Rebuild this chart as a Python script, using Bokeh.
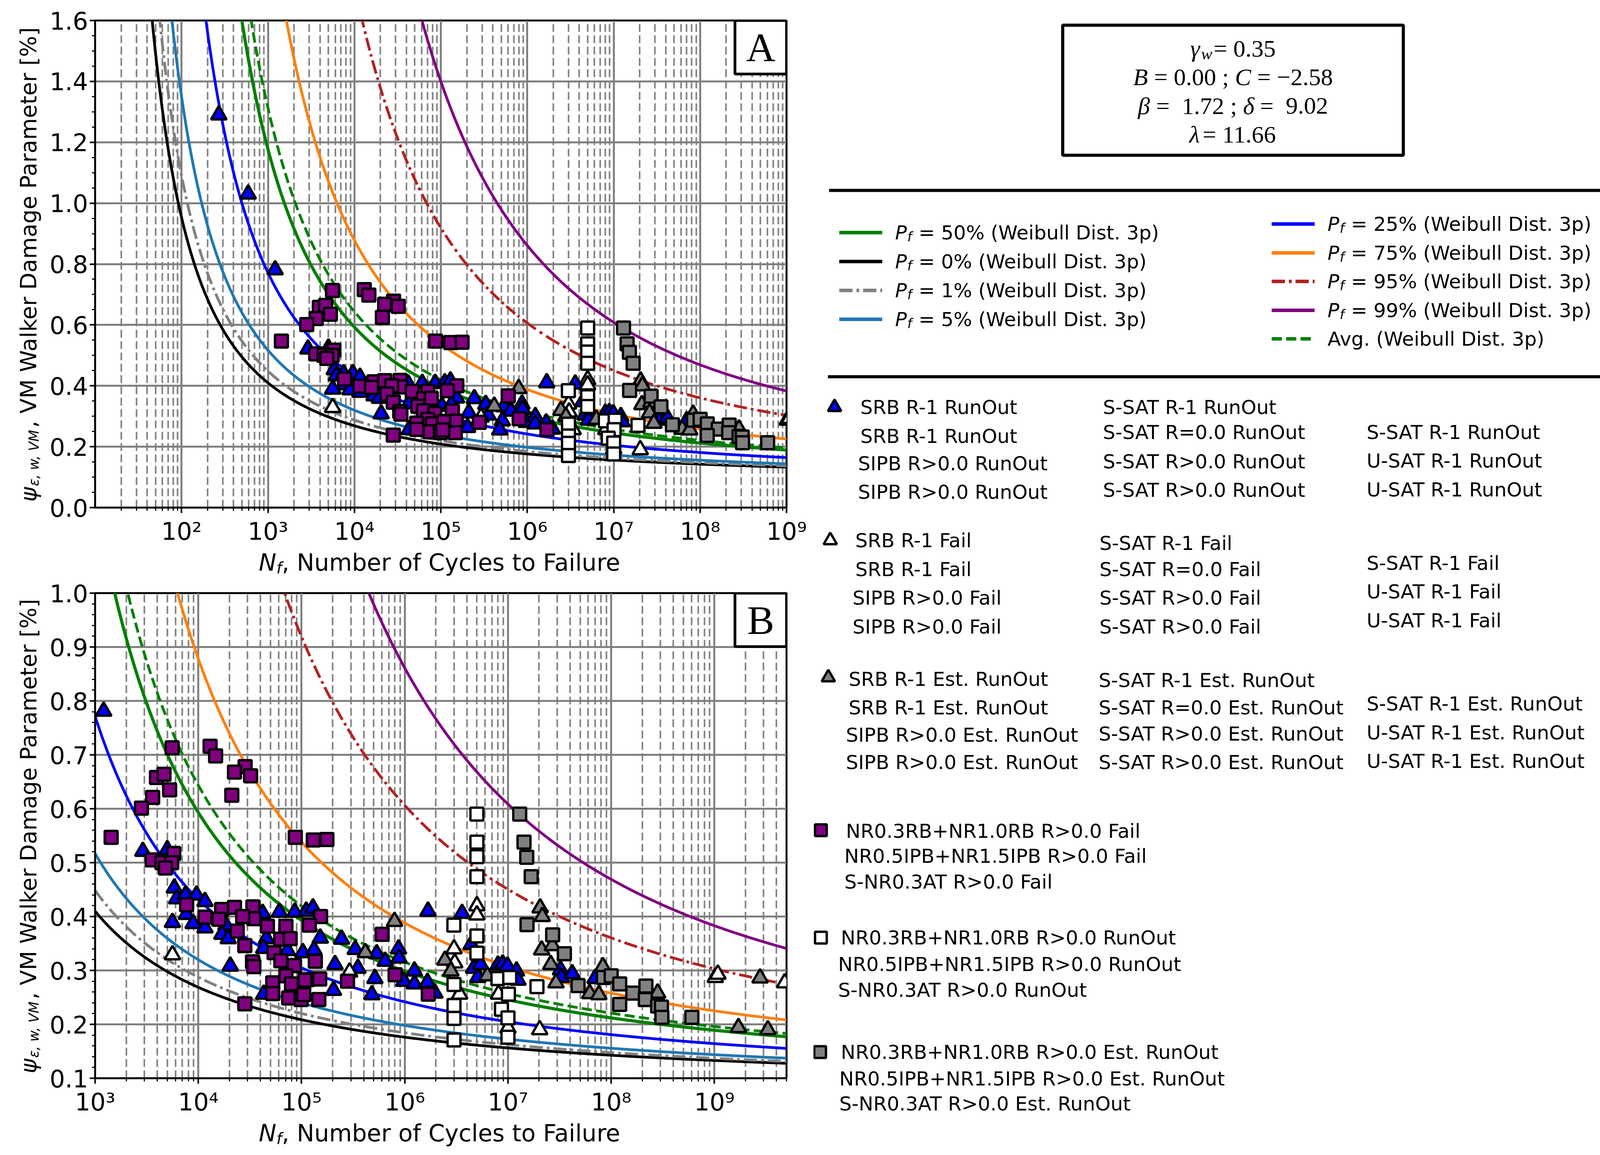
import math
import numpy as np
from bokeh.plotting import figure
from bokeh.models import Range1d, FixedTicker, PrintfTickFormatter, ColumnDataSource
from bokeh.layouts import row, column
from bokeh.embed import file_html
from bokeh.resources import INLINE
from bokeh.core.properties import value

# ---------------- model parameters (Weibull 3p) ----------------
GAMMA_W = 0.35
B_PAR = 0.00
C_PAR = -2.58
BETA = 1.72
DELTA = 9.02
LAMBDA = 11.66

# ---------------- experimental data ----------------
tri_blue_N = [270, 590, 1210, 2900, 5000, 5850, 6170, 7500, 9600, 11600, 7660, 5610,
              8900, 11600, 18500, 16900, 19500, 20400, 45700, 43000, 43000, 61000,
              86000, 111000, 42000, 103000, 73000, 129000, 152000, 244000, 132000,
              211000, 204000, 331000, 535000, 352000, 646000, 870000, 880000, 514000,
              480000, 980000, 1240000, 1240000, 1660000, 1960000, 1680000, 3590000,
              4400000, 4650000, 5420000, 5100000, 8000000, 8900000, 9900000, 12100000,
              12500000, 32300000, 33000000, 41900000, 69700000]
tri_blue_psi = [1.29, 1.03, 0.781, 0.521, 0.524, 0.453, 0.433, 0.440, 0.440, 0.428, 0.404, 0.389,
                0.387, 0.379, 0.384, 0.367, 0.359, 0.308, 0.359, 0.341, 0.256, 0.408,
                0.408, 0.410, 0.406, 0.333, 0.337, 0.416, 0.360, 0.358, 0.338,
                0.311, 0.263, 0.339, 0.331, 0.304, 0.317, 0.340, 0.323, 0.285,
                0.255, 0.280, 0.299, 0.275, 0.278, 0.258, 0.410, 0.406,
                0.348, 0.304, 0.311, 0.287, 0.310, 0.312, 0.308, 0.299,
                0.282, 0.301, 0.287, 0.294, 0.285]

tri_white_N = [5610, 292000, 3000000, 3050000, 3400000, 5000000, 5000000, 8100000,
               10000000, 20300000, 1020000000, 1080000000, 4800000000]
tri_white_psi = [0.329, 0.297, 0.340, 0.314, 0.256, 0.420, 0.403, 0.256,
                 0.193, 0.190, 0.287, 0.293, 0.277]

tri_grey_N = [415000, 796000, 2450000, 2800000, 6300000, 20500000, 21500000, 21200000,
              26900000, 26000000, 29200000, 62000000, 76000000, 83000000, 282000000,
              2770000000, 1710000000, 3300000000]
tri_grey_psi = [0.333, 0.391, 0.319, 0.299, 0.290, 0.416, 0.400, 0.338,
                0.346, 0.311, 0.277, 0.257, 0.255, 0.307, 0.258,
                0.286, 0.194, 0.190]

sq_purple_N = [5580, 13000, 14700, 28400, 22400, 32100, 21100, 3930, 4650, 5270, 3610,
               2810, 1430, 87000, 130000, 176000, 3570, 4440, 5780, 5520, 4800,
               7700, 11600, 16800, 22400, 33800, 15800, 34500, 26900, 23800, 28200,
               33500, 34500, 46700, 70600, 62900, 77600, 54200, 63000, 85000, 70600,
               52600, 80000, 52600, 75000, 99000, 114000, 28200,
               153000, 119000, 136000, 150000, 147000, 108000, 105000, 279000,
               603000, 807000, 1690000]
sq_purple_psi = [0.713, 0.716, 0.698, 0.678, 0.668, 0.661, 0.625, 0.658, 0.664, 0.635, 0.621,
                 0.601, 0.547, 0.547, 0.542, 0.543, 0.505, 0.500, 0.517, 0.500, 0.490,
                 0.422, 0.399, 0.413, 0.417, 0.418, 0.395, 0.396, 0.400, 0.373, 0.346,
                 0.316, 0.307, 0.382, 0.382, 0.358, 0.359, 0.333, 0.318, 0.309, 0.290,
                 0.277, 0.275, 0.257, 0.249, 0.246, 0.283, 0.238,
                 0.400, 0.384, 0.317, 0.284, 0.246, 0.282, 0.255, 0.280,
                 0.367, 0.292, 0.256]

sq_white_N = [2990000, 5000000, 5000000, 5000000, 5000000, 5000000, 5000000, 3000000,
              3000000, 3000000, 3000000, 8000000, 10400000, 10100000, 8650000,
              10000000, 10000000, 19100000]
sq_white_psi = [0.384, 0.590, 0.538, 0.511, 0.474, 0.364, 0.332, 0.274,
                0.235, 0.211, 0.171, 0.285, 0.287, 0.256, 0.228,
                0.212, 0.176, 0.270]

sq_grey_N = [13000000, 14300000, 15200000, 16800000, 15300000, 27100000, 35200000,
             47800000, 84000000, 100000000, 121000000, 162000000, 121000000,
             217000000, 214000000, 282000000, 307000000, 310000000, 605000000]
sq_grey_psi = [0.590, 0.538, 0.510, 0.474, 0.385, 0.366, 0.331,
               0.272, 0.287, 0.290, 0.275, 0.258, 0.237,
               0.271, 0.246, 0.234, 0.232, 0.213, 0.213]

curve_labels = ["50%", "0%", "1%", "5%", "25%", "75%", "95%", "99%", "Avg."]
curve_probs = [0.50, 0.0, 0.01, 0.05, 0.25, 0.75, 0.95, 0.99, None]
curve_colors = ["green", "black", "gray", "#1f77b4", "blue", "#ff7f0e", "firebrick",
                "purple", "green"]
curve_dashes = ["solid", "solid", "34 10 7 10", "solid", "solid", "solid", "34 10 7 10",
                "solid", "26 11"]
curve_widths = [8, 7, 7, 7, 7, 7, 7, 7, 7]

SANS = "DejaVu Sans"
SERIF = "Liberation Serif"


def weibull_v(p):
    if p is None:
        return LAMBDA + DELTA * math.gamma(1.0 + 1.0 / BETA)
    if p <= 0:
        return LAMBDA
    return LAMBDA + DELTA * (-math.log(1.0 - p)) ** (1.0 / BETA)


def psi_of_n(n, v):
    return np.exp(C_PAR + v / (np.log(n) - B_PAR))


SUP = str.maketrans("0123456789", "⁰¹²³⁴⁵⁶⁷⁸⁹")


def sup_label(t):
    return "10" + str(int(round(math.log10(t)))).translate(SUP)


def blank_fig(w, h, top=0, bottom=0, yspan=None):
    f = figure(width=w, height=h, x_range=Range1d(0, w),
               y_range=Range1d(0, yspan if yspan is not None else h),
               output_backend="svg", toolbar_location=None, x_axis_type=None,
               y_axis_type=None, title=None, min_border_left=0, min_border_right=0,
               min_border_top=top, min_border_bottom=bottom)
    f.grid.visible = False
    f.outline_line_color = None
    return f


def gtext(f, x, y, s, size, italic=False, font=SANS, align="left", angle=0.0):
    f.text(x=[x], y=[y], text=[s], text_font=value(font), text_font_size=f"{size}px",
           text_font_style="italic" if italic else "normal", text_align=align, angle=angle,
           text_baseline="middle", text_color="black")


def make_panel(xr, yr, xticks, xminor, yticks, yminor, letter, height, top, bottom):
    frame_w = 1770
    frame_h = height - top - bottom
    p = figure(width=1965, height=height, x_axis_type="log", title=None,
               x_range=Range1d(*xr), y_range=Range1d(*yr),
               output_backend="svg", toolbar_location=None,
               min_border_left=126, min_border_right=69,
               min_border_top=top, min_border_bottom=bottom)
    p.xaxis.ticker = FixedTicker(ticks=xticks, minor_ticks=xminor)
    p.xaxis.major_label_overrides = {t: sup_label(t) for t in xticks}
    p.yaxis.ticker = FixedTicker(ticks=yticks, minor_ticks=yminor)
    p.yaxis.formatter = PrintfTickFormatter(format="%.1f")
    for ax in (p.xaxis[0], p.yaxis[0]):
        ax.major_label_text_font = SANS
        ax.major_label_text_font_size = "62px"
        ax.major_label_text_color = "black"
        ax.axis_line_color = "black"
        ax.axis_line_width = 5
        ax.major_tick_line_width = 4
        ax.major_tick_line_color = "black"
        ax.major_tick_out = 14
        ax.major_tick_in = 0
        ax.minor_tick_line_width = 3
        ax.minor_tick_line_color = "black"
        ax.minor_tick_out = 8
        ax.minor_tick_in = 0
    p.xaxis.major_label_standoff = 10
    p.yaxis.major_label_standoff = 4
    p.outline_line_color = "black"
    p.outline_line_width = 5
    p.outline_line_alpha = 1.0
    p.xgrid.grid_line_color = "gray"
    p.xgrid.grid_line_width = 5
    p.xgrid.grid_line_alpha = 1.0
    p.xgrid.minor_grid_line_color = "gray"
    p.xgrid.minor_grid_line_width = 4
    p.xgrid.minor_grid_line_dash = "20 9"
    p.ygrid.grid_line_color = "gray"
    p.ygrid.grid_line_width = 5
    p.ygrid.grid_line_alpha = 1.0

    n = np.logspace(math.log10(xr[0]), math.log10(xr[1]), 900)
    for lab, pr, col, dash, lw in zip(curve_labels, curve_probs, curve_colors,
                                      curve_dashes, curve_widths):
        p.line(n, psi_of_n(n, weibull_v(pr)), line_color=col, line_width=lw,
               line_dash=dash)

    series = [
        (tri_blue_N, tri_blue_psi, "triangle", "blue"),
        (tri_white_N, tri_white_psi, "triangle", "white"),
        (tri_grey_N, tri_grey_psi, "triangle", "gray"),
        (sq_purple_N, sq_purple_psi, "square", "purple"),
        (sq_white_N, sq_white_psi, "square", "white"),
        (sq_grey_N, sq_grey_psi, "square", "gray"),
    ]
    for xs, ys, mk, fc in series:
        src = ColumnDataSource(dict(N=xs, psi=ys))
        p.scatter(x="N", y="psi", source=src, marker=mk,
                  size=40 if mk == "triangle" else 33,
                  fill_color=fc, line_color="black", line_width=6)

    lx0, lx1 = math.log10(xr[0]), math.log10(xr[1])
    box_left = 10 ** (lx0 + (lx1 - lx0) * (frame_w - 132) / frame_w)
    box_bottom = yr[1] - (yr[1] - yr[0]) * 137 / frame_h
    p.quad(left=[box_left], right=[xr[1]], bottom=[box_bottom], top=[yr[1]],
           fill_color="white", line_color="black", line_width=7)
    cx = 10 ** ((math.log10(box_left) + lx1) / 2)
    cy = (box_bottom + yr[1]) / 2
    p.text(x=[cx], y=[cy], text=[letter], text_font=value(SERIF),
           text_font_size="104px", text_font_style="normal", text_align="center",
           text_baseline="middle", text_color="black")
    return p


def ylabel_fig(height, top, bottom):
    # same top/bottom borders as its panel, so the frames coincide
    frame_h = height - top - bottom
    f = blank_fig(117, height, top=top, bottom=bottom, yspan=frame_h)
    ang = math.pi / 2
    psi_w, sub_w, rest_w = 41, 146, 1034
    y0 = frame_h / 2 - (psi_w + sub_w + rest_w) / 2
    gtext(f, 72, y0 + psi_w / 2, "ψ", 57, italic=True, angle=ang, align="center")
    gtext(f, 86, y0 + psi_w + sub_w / 2, "ε, w, VM", 35, italic=True, angle=ang,
          align="center")
    gtext(f, 72, y0 + psi_w + sub_w + rest_w / 2, ", VM Walker Damage Parameter [%]", 57,
          angle=ang, align="center")
    return f


def xlabel_fig(height, center_local):
    f = blank_fig(2082, height)
    gtext(f, 662, center_local, "N", 60, italic=True)
    gtext(f, 707, center_local - 14, "f", 40, italic=True)
    gtext(f, 721, center_local, ", Number of Cycles to Failure", 60)
    return f


yA_ticks = [0.0, 0.2, 0.4, 0.6, 0.8, 1.0, 1.2, 1.4, 1.6]
yA_minor = [round(0.05 * i, 3) for i in range(33)]
xA_ticks = [10 ** k for k in range(2, 10)]
xA_minor = [m * 10 ** k for k in range(1, 9) for m in range(2, 10)]

yB_ticks = [0.1, 0.2, 0.3, 0.4, 0.5, 0.6, 0.7, 0.8, 0.9, 1.0]
yB_minor = [round(0.1 + 0.02 * i, 3) for i in range(46)]
xB_ticks = [10 ** k for k in range(3, 10)]
xB_minor = [m * 10 ** k for k in range(3, 10) for m in range(2, 10) if m * 10 ** k <= 5e9]

pA = make_panel((10, 1e9), (0.0, 1.6), xA_ticks, xA_minor, yA_ticks, yA_minor,
                "A", 1399, 52, 100)
pB = make_panel((1e3, 5e9), (0.1, 1.0), xB_ticks, xB_minor, yB_ticks, yB_minor,
                "B", 1381, 39, 100)
yA = ylabel_fig(1399, 52, 100)
yB = ylabel_fig(1381, 39, 100)
xA = xlabel_fig(80, 40)
xB = xlabel_fig(79, 39)

# ---------------- legend / parameter panel ----------------
LW, LH = 2064, 2939
L = figure(width=LW, height=LH, x_range=Range1d(2090, 2090 + LW), y_range=Range1d(0, LH),
           output_backend="svg", toolbar_location=None, x_axis_type=None, y_axis_type=None,
           min_border=0, title=None)
L.grid.visible = False
L.outline_line_color = None


def Y(py):
    return 2947 - py


L.quad(left=[2728], right=[3600], top=[Y(72)], bottom=[Y(405)], fill_color=None,
       line_color="black", line_width=8)
TW = {'.': .25, ' ': .25, '=': .564, ';': .278, '−': .564, 'B': .611, 'C': .667,
      'β': .5, 'δ': .45, 'λ': .5, 'γ': .44, 'w': .667}
box_lines = [
    [(0, "γ", True, False), (0, "w", True, True), (0.05, "= " + f"{GAMMA_W:.2f}", False, False)],
    [(0, "B", True, False), (0.25, "= " + f"{B_PAR:.2f} ;", False, False), (0.25, "C", True, False),
     (0.25, "= " + f"{C_PAR:.2f}".replace("-", "−"), False, False)],
    [(0, "β", True, False), (0.25, "=", False, False), (0.5, f"{BETA:.2f} ;", False, False),
     (0.25, "δ", True, False), (0.25, "=", False, False), (0.5, f"{DELTA:.2f}", False, False)],
    [(0, "λ", True, False), (0.05, "= " + f"{LAMBDA:.2f}", False, False)],
]
BOX_F = 62
for li, parts in enumerate(box_lines):
    yline = 131 + 73.5 * li
    widths = []
    for gap, s, it, sb in parts:
        fsz = BOX_F * (0.7 if sb else 1.0)
        widths.append((gap * BOX_F, sum(TW.get(c, 0.5) for c in s) * fsz))
    total = sum(g + w for g, w in widths)
    x = 3164 - total / 2
    for (gap, s, it, sb), (g, w) in zip(parts, widths):
        x += g
        size = int(BOX_F * (0.7 if sb else 1.0))
        gtext(L, x, Y(yline + (14 if sb else 0)), s, size, italic=it, font=SERIF)
        x += w

L.segment(x0=[2130, 2127], y0=[Y(495), Y(972)], x1=[4131, 4128], y1=[Y(495), Y(972)],
          line_color="black", line_width=8)

leg_pos = {"50%": (2156, 603), "0%": (2156, 677), "1%": (2156, 751), "5%": (2156, 825),
           "25%": (3263, 581), "75%": (3263, 655), "95%": (3263, 728), "99%": (3263, 802),
           "Avg.": (3263, 875)}
for lab, col, dash in zip(curve_labels, curve_colors, curve_dashes):
    lx, ly = leg_pos[lab]
    L.line([lx, lx + 110], [Y(ly), Y(ly)], line_color=col, line_width=9, line_dash=dash)
    tx = lx + 143
    if lab == "Avg.":
        gtext(L, tx, Y(ly), "Avg. (Weibull Dist. 3p)", 50)
    else:
        gtext(L, tx, Y(ly), "P", 50, italic=True)
        gtext(L, tx + 31, Y(ly + 10), "f", 34, italic=True)
        gtext(L, tx + 60, Y(ly), f"= {lab} (Weibull Dist. 3p)", 50)

marker_groups = [
    ("triangle", "blue", (2144, 1050), [
        (2210, 1050, "SRB R-1 RunOut"), (2210, 1124, "SRB R-1 RunOut"),
        (2204, 1194, "SIPB R>0.0 RunOut"), (2204, 1267, "SIPB R>0.0 RunOut"),
        (2831, 1050, "S-SAT R-1 RunOut"), (2831, 1114, "S-SAT R=0.0 RunOut"),
        (2831, 1189, "S-SAT R>0.0 RunOut"), (2831, 1262, "S-SAT R>0.0 RunOut"),
        (3506, 1114, "S-SAT R-1 RunOut"), (3506, 1187, "U-SAT R-1 RunOut"),
        (3506, 1261, "U-SAT R-1 RunOut")]),
    ("triangle", "white", (2133, 1391), [
        (2197, 1391, "SRB R-1 Fail"), (2197, 1465, "SRB R-1 Fail"),
        (2190, 1538, "SIPB R>0.0 Fail"), (2190, 1612, "SIPB R>0.0 Fail"),
        (2822, 1398, "S-SAT R-1 Fail"), (2822, 1465, "S-SAT R=0.0 Fail"),
        (2822, 1538, "S-SAT R>0.0 Fail"), (2822, 1612, "S-SAT R>0.0 Fail"),
        (3506, 1449, "S-SAT R-1 Fail"), (3506, 1522, "U-SAT R-1 Fail"),
        (3506, 1596, "U-SAT R-1 Fail")]),
    ("triangle", "gray", (2128, 1742), [
        (2180, 1746, "SRB R-1 Est. RunOut"), (2180, 1819, "SRB R-1 Est. RunOut"),
        (2173, 1889, "SIPB R>0.0 Est. RunOut"), (2173, 1959, "SIPB R>0.0 Est. RunOut"),
        (2820, 1749, "S-SAT R-1 Est. RunOut"), (2820, 1819, "S-SAT R=0.0 Est. RunOut"),
        (2820, 1886, "S-SAT R>0.0 Est. RunOut"), (2820, 1959, "S-SAT R>0.0 Est. RunOut"),
        (3506, 1809, "S-SAT R-1 Est. RunOut"), (3506, 1883, "U-SAT R-1 Est. RunOut"),
        (3506, 1956, "U-SAT R-1 Est. RunOut")]),
    ("square", "purple", (2109, 2133), [
        (2173, 2135, "NR0.3RB+NR1.0RB R>0.0 Fail"),
        (2169, 2199, "NR0.5IPB+NR1.5IPB R>0.0 Fail"),
        (2169, 2265, "S-NR0.3AT R>0.0 Fail")]),
    ("square", "white", (2109, 2408), [
        (2160, 2408, "NR0.3RB+NR1.0RB R>0.0 RunOut"),
        (2153, 2476, "NR0.5IPB+NR1.5IPB R>0.0 RunOut"),
        (2153, 2542, "S-NR0.3AT R>0.0 RunOut")]),
    ("square", "gray", (2107, 2701), [
        (2160, 2701, "NR0.3RB+NR1.0RB R>0.0 Est. RunOut"),
        (2156, 2769, "NR0.5IPB+NR1.5IPB R>0.0 Est. RunOut"),
        (2156, 2833, "S-NR0.3AT R>0.0 Est. RunOut")]),
]
for mk, fc, (mx, my), texts in marker_groups:
    L.scatter(x=[mx], y=[Y(my)], marker=mk, size=34 if mk == "triangle" else 30,
              fill_color=fc, line_color="black", line_width=6)
    for tx, ty, s in texts:
        gtext(L, tx, Y(ty), s, 50)

left_col = column(row(yA, pA), xA, row(yB, pB), xB)
layout = row(left_col, L)
open("out.html", "w").write(file_html(layout, INLINE))
